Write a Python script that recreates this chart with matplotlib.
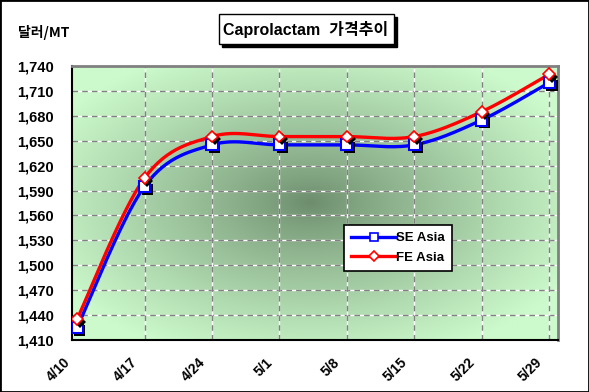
import numpy as np
import matplotlib.pyplot as plt
import matplotlib.patheffects as pe
import matplotlib.transforms as mtrans
from matplotlib.patches import Rectangle

# data
dates = ['4/10', '4/17', '4/24', '5/1', '5/8', '5/15', '5/22', '5/29']
se_asia = [1425, 1595, 1645, 1645, 1645, 1645, 1675, 1720]
fe_asia = [1435, 1605, 1655, 1655, 1655, 1655, 1685, 1730]
yticks = list(range(1410, 1741, 30))

plt.rcParams['font.family'] = ['Liberation Sans', 'Noto Sans CJK KR', 'DejaVu Sans']
plt.rcParams['font.weight'] = 'bold'


def smooth(xs, ys, n=30):
    # catmull-rom, like excel's smoothed line
    xs = np.asarray(xs, float)
    ys = np.asarray(ys, float)
    px = np.concatenate([[xs[0]], xs, [xs[-1]]])
    py = np.concatenate([[ys[0]], ys, [ys[-1]]])
    ox, oy = [], []
    for i in range(1, len(px) - 2):
        t = np.linspace(0, 1, n, endpoint=False)
        for p, out in ((px, ox), (py, oy)):
            p0, p1, p2, p3 = p[i - 1], p[i], p[i + 1], p[i + 2]
            b1 = p1 + (p2 - p0) / 6
            b2 = p2 - (p3 - p1) / 6
            out.extend((1 - t) ** 3 * p1 + 3 * (1 - t) ** 2 * t * b1
                       + 3 * (1 - t) * t ** 2 * b2 + t ** 3 * p2)
    ox.append(xs[-1])
    oy.append(ys[-1])
    return ox, oy


fig = plt.figure(figsize=(5.89, 3.92), dpi=100)
ax = fig.add_axes([72 / 589, 1 - 340 / 392, 486 / 589, 274 / 392])

# radial green background
gx, gy = np.meshgrid(np.linspace(0, 1, 300), np.linspace(0, 1, 200))
r = np.sqrt(((gx - 0.49) / 0.6) ** 2 + ((gy - 0.5) / 0.6) ** 2)
r = np.clip(r, 0, 1) ** 0.85
dark = np.array([108, 140, 108]) / 255
light = np.array([204, 250, 204]) / 255
img = dark + (light - dark) * r[..., None]
ax.imshow(img, extent=[0, 1, 0, 1], transform=ax.transAxes, aspect='auto',
          zorder=0, origin='lower')

x = np.arange(len(dates))
ax.set_xlim(-0.075, 7.13)
ax.set_ylim(1410, 1740)

# dashed grid (gray dashes over white)
for yy in yticks[1:-1]:
    ax.axhline(yy, color='white', lw=1, zorder=1)
    ax.axhline(yy, color='#808080', lw=1, ls=(0, (4, 3)), zorder=1)
for xx in x[1:]:
    ax.axvline(xx, color='white', lw=1, zorder=1)
    ax.axvline(xx, color='#808080', lw=1, ls=(0, (4, 3)), zorder=1)

sx, sy = smooth(x, se_asia)
fx, fy = smooth(x, fe_asia)
ax.plot(sx, sy, color='#0000ff', lw=2.4, zorder=3)
ax.plot(fx, fy, color='#ff0000', lw=2.4, zorder=3)

shadow = [pe.withSimplePatchShadow(offset=(2, -2), shadow_rgbFace='black', alpha=1)]
ax.plot(x, se_asia, ls='none', marker='s', ms=8, mfc='white', mec='#0000ff',
        mew=1.5, zorder=4, path_effects=shadow)
ax.plot(x, fe_asia, ls='none', marker='D', ms=6, mfc='white', mec='#ff0000',
        mew=1.2, zorder=5, path_effects=shadow)

# legend
h1, = ax.plot([], [], color='#0000ff', lw=2.4, marker='s', ms=6, mfc='white',
              mec='#0000ff', mew=1.2)
h2, = ax.plot([], [], color='#ff0000', lw=2.4, marker='D', ms=5, mfc='white',
              mec='#ff0000', mew=1.2)
leg = ax.legend([h1, h2], ['SE Asia', 'FE Asia'], loc='upper left',
                bbox_to_anchor=(344 / 589, 1 - 225 / 392),
                bbox_transform=fig.transFigure, borderaxespad=0,
                fancybox=False, edgecolor='black', framealpha=1,
                handlelength=3.4, handletextpad=0.0, labelspacing=0.55,
                borderpad=0.55, prop={'size': 9.5, 'weight': 'bold'})
leg.get_frame().set_linewidth(1.2)
leg.set_zorder(6)

ax.set_yticks(yticks)
ax.set_yticklabels([f'{v:,}' for v in yticks], fontsize=10.5, fontweight='bold')
ax.set_xticks(x)
ax.set_xticklabels(dates, rotation=45, ha='right', va='top',
                   rotation_mode='anchor', fontsize=10, fontweight='bold')
ax.tick_params(axis='y', length=0, pad=13)
ax.tick_params(axis='x', length=0, pad=11)
shift = mtrans.ScaledTranslation(-14 / 100, 0, fig.dpi_scale_trans)
for lab in ax.get_xticklabels():
    lab.set_transform(lab.get_transform() + shift)

for s in ['left', 'bottom']:
    ax.spines[s].set_linewidth(1.5)
    ax.spines[s].set_color('black')
for s in ['top', 'right']:
    ax.spines[s].set_linewidth(2)
    ax.spines[s].set_color('#808080')

fig.text(18 / 589, 1 - 33 / 392, '달러/MT', fontsize=10, fontweight='bold',
         va='center', ha='left', family=['Noto Sans CJK KR', 'Liberation Sans'])

# title box with shadow
fig.patches.append(Rectangle((222 / 589, 1 - 47 / 392), 175 / 589, 30 / 392,
                             transform=fig.transFigure, color='black', zorder=1))
fig.patches.append(Rectangle((219 / 589, 1 - 44 / 392), 175 / 589, 30 / 392,
                             transform=fig.transFigure, facecolor='white',
                             edgecolor='black', lw=1, zorder=2))
fig.text(306 / 589, 1 - 29 / 392, 'Caprolactam  가격추이', fontsize=11.5,
         fontweight='bold', ha='center', va='center', zorder=3,
         family=['Liberation Sans', 'Noto Sans CJK KR'])

# outer border
fig.patches.append(Rectangle((0, 0), 1, 1, transform=fig.transFigure,
                             fill=False, edgecolor='black', lw=2))

fig.savefig('out.png', dpi=100)
